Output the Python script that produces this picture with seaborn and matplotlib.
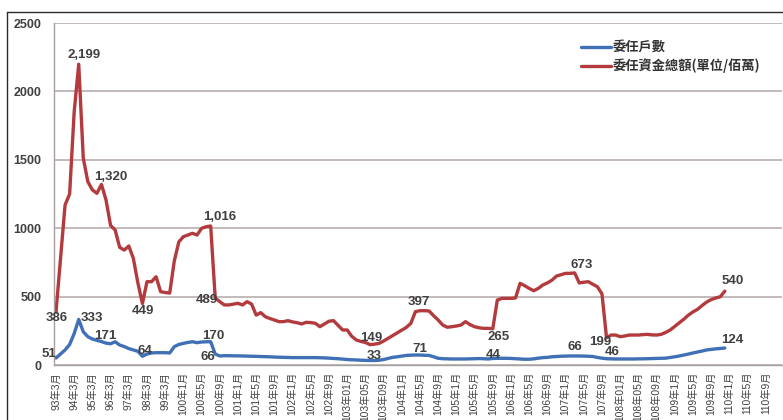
import numpy as np
import pandas as pd
import matplotlib
matplotlib.use("Agg")
import matplotlib.pyplot as plt
import seaborn as sns
from matplotlib.lines import Line2D

# Period labels printed on the x axis (one label every four periods)
tick_labels = [
    "93年3月", "94年3月", "95年3月", "96年3月", "97年3月", "98年3月", "99年3月",
    "100年1月", "100年5月", "100年9月", "101年1月", "101年5月", "101年9月",
    "102年1月", "102年5月", "102年9月", "103年01月", "103年05月", "103年09月",
    "104年1月", "104年5月", "104年9月", "105年1月", "105年5月", "105年9月",
    "106年1月", "106年5月", "106年9月", "107年1月", "107年5月", "107年9月",
    "108年01月", "108年05月", "108年09月", "109年1月", "109年5月", "109年9月",
    "110年1月", "110年5月", "110年9月",
]
periods_per_label = 4

series_names = ["委任戶數", "委任資金總額(單位/佰萬)"]

# Number of discretionary accounts per period
accounts = [
    51, 80, 110, 150, 230, 333, 243, 207, 190, 180,
    171, 160, 155, 170, 146, 135, 120, 110, 100, 64,
    80, 88, 90, 90, 90, 88, 134, 150, 158, 165,
    170, 163, 168, 170, 170, 80, 66, 68, 68, 67,
    67, 66, 65, 64, 63, 62, 61, 60, 58, 57,
    56, 55, 54, 54, 54, 54, 54, 54, 53, 52,
    50, 48, 46, 43, 40, 38, 37, 35, 34, 33,
    33, 35, 40, 48, 56, 60, 65, 70, 72, 73,
    73, 71, 70, 60, 49, 46, 45, 44, 44, 44,
    44, 45, 46, 47, 46, 44, 48, 49, 49, 49,
    48, 46, 44, 42, 42, 45, 50, 54, 56, 60,
    62, 64, 65, 66, 66, 66, 65, 64, 62, 55,
    50, 46, 45, 44, 44, 44, 44, 44, 45, 45,
    46, 47, 48, 49, 50, 55, 60, 66, 73, 80,
    88, 95, 102, 110, 114, 118, 121, 124,
]

# Total discretionary capital per period
capital = [
    386, 780, 1170, 1250, 1850, 2199, 1513, 1340, 1280, 1255,
    1320, 1206, 1020, 987, 860, 840, 870, 780, 600, 449,
    609, 609, 645, 536, 530, 526, 760, 900, 938, 950,
    963, 950, 999, 1011, 1016, 489, 463, 439, 439, 445,
    451, 439, 463, 445, 365, 383, 353, 340, 329, 317,
    317, 324, 315, 309, 300, 312, 310, 305, 280, 300,
    320, 324, 290, 256, 256, 210, 183, 172, 165, 149,
    152, 158, 175, 195, 215, 235, 255, 275, 305, 390,
    397, 397, 395, 360, 329, 292, 276, 280, 285, 292,
    317, 295, 280, 272, 268, 268, 265, 475, 487, 487,
    487, 490, 597, 580, 560, 543, 560, 585, 600, 620,
    650, 660, 670, 670, 673, 600, 605, 609, 590, 572,
    520, 199, 219, 219, 207, 212, 219, 219, 219, 222,
    224, 220, 219, 224, 238, 256, 282, 309, 335, 365,
    388, 407, 435, 460, 478, 490, 499, 540,
]

# Periods whose values are printed next to the line
accounts_labeled = [0, 5, 10, 19, 34, 36, 69, 81, 95, 114, 121, 147]
capital_labeled = [0, 5, 10, 19, 34, 35, 69, 80, 96, 114, 121, 147]

# ---- styling -------------------------------------------------------------
BLUE = "#4070b5"
RED = "#b33a3d"
TEXT = "#404040"
GRID = "#b3a7a7"

# label offsets in pixels (dx, dy) relative to the labelled point
accounts_offsets = {0: (-7, 4), 5: (13, 1.5), 10: (3.5, 5.6), 19: (2.5, 5.7),
                    34: (2.6, 5.7), 36: (-12, -1.3), 69: (4, 4), 81: (-4.5, 6),
                    95: (5, 3.5), 114: (0, 8.7), 121: (6, 6.4), 147: (7.6, 8)}
capital_offsets = {0: (1, -6), 5: (5, 9), 10: (9, 7), 19: (0.5, -7.5),
                   34: (9, 9), 35: (-8.5, -2), 69: (1, 6.6), 80: (-1, 9),
                   96: (5.5, -8), 114: (7, 8), 121: (-6.6, -4), 147: (7.6, 10)}

sns.set_style("white")
plt.rcParams["font.family"] = ["Liberation Sans", "Noto Sans CJK TC", "DejaVu Sans"]

n_periods = len(tick_labels) * periods_per_label

df = pd.DataFrame({
    "period": np.concatenate([np.arange(len(accounts)), np.arange(len(capital))]),
    "value": np.concatenate([accounts, capital]),
    "series": [series_names[0]] * len(accounts) + [series_names[1]] * len(capital),
})

W, H = 783, 420
fig = plt.figure(figsize=(W / 100, H / 100), dpi=100)
left_px, right_px, top_px, bottom_px = 53.7, 781.7, 23, 365
ax = fig.add_axes([left_px / W, 1 - bottom_px / H,
                   (right_px - left_px) / W, (bottom_px - top_px) / H])

sns.lineplot(data=df, x="period", y="value", hue="series",
             palette={series_names[0]: BLUE, series_names[1]: RED},
             linewidth=2.4, ax=ax, legend=False)

ax.set_xlim(-0.5, n_periods - 0.5)
ax.set_ylim(0, 2500)
ax.set_xlabel("")
ax.set_ylabel("")

# y axis
ax.set_yticks(np.arange(0, 2501, 500))
ax.yaxis.grid(True, color=GRID, linewidth=1.1)
ax.xaxis.grid(False)
ax.tick_params(axis="y", which="major", direction="out", length=3, width=0.8,
               color="#a0a0a0", pad=6, labelsize=9, labelcolor=TEXT)
for lab in ax.get_yticklabels():
    lab.set_fontweight("bold")

# x axis: labels every fourth period, small ticks between every period
ax.set_xticks(np.arange(0, n_periods, periods_per_label))
ax.set_xticklabels(tick_labels, rotation=90)
ax.set_xticks(np.arange(-0.5, n_periods, 1), minor=True)
ax.tick_params(axis="x", which="major", length=0, pad=5, labelsize=7.4,
               labelcolor=TEXT)
ax.tick_params(axis="x", which="minor", direction="out", length=3, width=0.7,
               color="#a8a8a8")

for side in ["top", "right"]:
    ax.spines[side].set_visible(False)
for side in ["left", "bottom"]:
    ax.spines[side].set_color("#a8a0a0")
    ax.spines[side].set_linewidth(1.0)

# value labels
label_kw = dict(textcoords="offset pixels", ha="center", va="center",
                fontsize=9.5, fontweight="bold", color=TEXT)
for i in accounts_labeled:
    v = accounts[i]
    ax.annotate(f"{v:,}", xy=(i, v), xytext=accounts_offsets[i], **label_kw)
for i in capital_labeled:
    v = capital[i]
    ax.annotate(f"{v:,}", xy=(i, v), xytext=capital_offsets[i], **label_kw)

# legend
handles = [Line2D([], [], color=BLUE, lw=2.4), Line2D([], [], color=RED, lw=2.4)]
leg = ax.legend(handles, series_names, loc="upper left",
                bbox_to_anchor=(574 / W, 1 - 34 / H), bbox_transform=fig.transFigure,
                frameon=False, borderpad=0, handlelength=2.3, handletextpad=0.1,
                labelspacing=0.3, prop={"family": ["Noto Sans CJK TC"], "size": 9.5,
                                         "weight": "bold"})
for t in leg.get_texts():
    t.set_color("#333333")

# chart-area border
fig.add_artist(Line2D([7 / W, 7 / W], [0, 1 - 12 / H], color="#2a2a2a", lw=1.0))
fig.add_artist(Line2D([7 / W, 1], [1 - 12 / H, 1 - 12 / H], color="#2a2a2a", lw=1.0))

fig.savefig("out.png", dpi=100)
